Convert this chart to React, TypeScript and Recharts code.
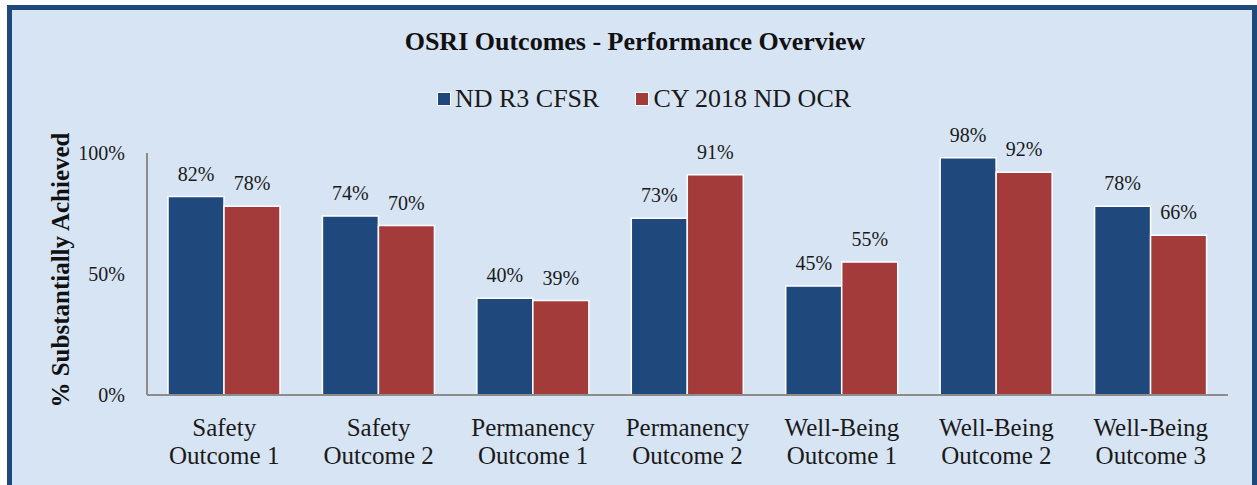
import { BarChart, Bar, XAxis, YAxis, LabelList } from "recharts";

const categories = [
  "Safety Outcome 1",
  "Safety Outcome 2",
  "Permanency Outcome 1",
  "Permanency Outcome 2",
  "Well-Being Outcome 1",
  "Well-Being Outcome 2",
  "Well-Being Outcome 3",
];
const cfsrValues = [82, 74, 40, 73, 45, 98, 78];
const ocrValues = [78, 70, 39, 91, 55, 92, 66];
const yTicks = [0, 50, 100];

const BLUE = "#1f497d";
const RED = "#a33b3a";
const FONT = "'Liberation Serif', 'Times New Roman', serif";

const data = categories.map((name, i) => ({
  name,
  cfsr: cfsrValues[i],
  ocr: ocrValues[i],
}));

const CategoryTick = (props: { x?: number; y?: number; payload?: { value: string } }) => {
  const { x = 0, y = 0, payload } = props;
  const value = payload?.value ?? "";
  const idx = value.indexOf("Outcome");
  const first = value.slice(0, idx).trim();
  const second = value.slice(idx);
  return (
    <text x={x} y={y} textAnchor="middle" fill="#1a1a1a" style={{ fontFamily: FONT, fontSize: 25 }}>
      <tspan x={x} dy={33}>{first}</tspan>
      <tspan x={x} dy={28}>{second}</tspan>
    </text>
  );
};

const YLabel = () => (
  <text
    x={60}
    y={270}
    transform="rotate(-90 60 270)"
    textAnchor="middle"
    dominantBaseline="central"
    fill="#111"
    style={{ fontFamily: FONT, fontWeight: 700, fontSize: 25 }}
  >
    % Substantially Achieved
  </text>
);

const legendItems = [
  { label: "ND R3 CFSR", color: BLUE },
  { label: "CY 2018 ND OCR", color: RED },
];

export default function App() {
  return (
    <div
      style={{
        position: "absolute",
        left: 0,
        top: 0,
        width: 1257,
        height: 485,
        background: "#fff",
        overflow: "hidden",
      }}
    >
      <div
        style={{
          position: "absolute",
          left: 7,
          top: 5,
          width: 1240,
          height: 520,
          background: "#d7e4f4",
          border: `5px solid ${BLUE}`,
        }}
      />
      <div
        style={{
          position: "absolute",
          left: 0,
          top: 27,
          width: 1270,
          textAlign: "center",
          fontFamily: FONT,
          fontWeight: 700,
          fontSize: 26,
          color: "#111",
        }}
      >
        OSRI Outcomes - Performance Overview
      </div>
      <div
        style={{
          position: "absolute",
          left: 0,
          top: 84,
          width: 1288,
          display: "flex",
          justifyContent: "center",
          gap: 36,
          fontFamily: FONT,
          fontSize: 26,
          color: "#1a1a1a",
        }}
      >
        {legendItems.map((item) => (
          <span key={item.label} style={{ display: "flex", alignItems: "center", gap: 4 }}>
            <span
              style={{
                display: "inline-block",
                width: 12,
                height: 12,
                background: item.color,
                border: "1.5px solid #fff",
              }}
            />
            {item.label}
          </span>
        ))}
      </div>
      <div style={{ position: "absolute", left: 0, top: 0 }}>
        <BarChart
          width={1257}
          height={485}
          data={data}
          margin={{ top: 153, right: 29, left: 67, bottom: 0 }}
          barCategoryGap={21}
          barGap={0}
        >
          <XAxis
            dataKey="name"
            axisLine={{ stroke: "#8c8c8c", strokeWidth: 2 }}
            tickLine={false}
            tick={<CategoryTick />}
            interval={0}
            height={90}
          />
          <YAxis
            domain={[0, 100]}
            ticks={yTicks}
            width={80}
            axisLine={{ stroke: "#8c8c8c", strokeWidth: 2 }}
            tickLine={false}
            tickFormatter={(v) => `${v}%`}
            tick={{ fill: "#1a1a1a", fontFamily: FONT, fontSize: 20 }}
            tickMargin={16}
            label={<YLabel />}
          />
          <Bar dataKey="cfsr" name="ND R3 CFSR" fill={BLUE} stroke="#fff" strokeWidth={1.5} isAnimationActive={false}>
            <LabelList
              dataKey="cfsr"
              position="top"
              offset={16}
              formatter={(v: number) => `${v}%`}
              style={{ fontFamily: FONT, fontSize: 20, fill: "#1a1a1a" }}
            />
          </Bar>
          <Bar dataKey="ocr" name="CY 2018 ND OCR" fill={RED} stroke="#fff" strokeWidth={1.5} isAnimationActive={false}>
            <LabelList
              dataKey="ocr"
              position="top"
              offset={16}
              formatter={(v: number) => `${v}%`}
              style={{ fontFamily: FONT, fontSize: 20, fill: "#1a1a1a" }}
            />
          </Bar>
        </BarChart>
      </div>
    </div>
  );
}
